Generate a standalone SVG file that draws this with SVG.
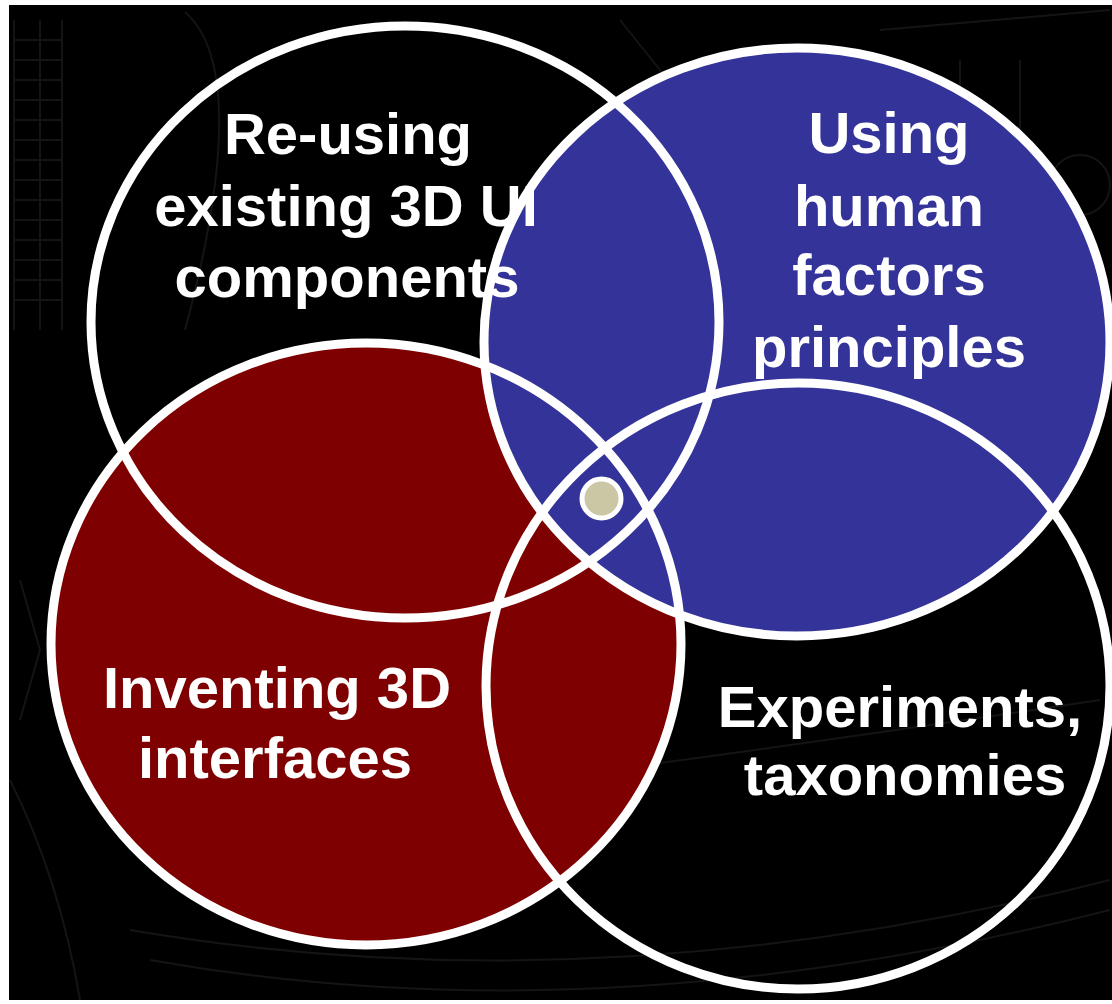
<svg xmlns="http://www.w3.org/2000/svg" width="1112" height="1004" viewBox="0 0 1112 1004">
  <style>
    .ring { fill: none; stroke: #ffffff; stroke-width: 9; }
    .lbl { font-family: "Liberation Sans", Arial, sans-serif; font-weight: bold; font-size: 58px; fill: #ffffff; text-anchor: middle; }
    .deco { fill: none; stroke: #141414; stroke-width: 2; }
  </style>
  <defs>
    <ellipse id="e-reuse" cx="405" cy="322" rx="314" ry="296"/>
    <ellipse id="e-human" cx="797" cy="342" rx="313" ry="294"/>
    <ellipse id="e-invent" cx="366" cy="644" rx="315" ry="301"/>
    <ellipse id="e-exp" cx="798" cy="686" rx="312" ry="303"/>
  </defs>

  <!-- background -->
  <rect x="0" y="0" width="1112" height="1004" fill="#000000"/>
  <g id="background-decoration">
    <path class="deco" d="M14 20 V330 M40 20 V330 M62 20 V330"/>
    <path class="deco" d="M14 40 H62 M14 60 H62 M14 80 H62 M14 100 H62 M14 120 H62 M14 140 H62 M14 160 H62 M14 180 H62 M14 200 H62 M14 220 H62 M14 240 H62 M14 260 H62 M14 280 H62 M14 300 H62"/>
    <path class="deco" d="M185 12 C240 60 220 200 185 330"/>
    <path class="deco" d="M620 20 L700 120 M880 30 L1110 10 M900 60 V160 M960 60 V160 M1020 60 V160"/>
    <circle class="deco" cx="1080" cy="185" r="30"/>
    <path class="deco" d="M130 930 Q600 1010 1110 880"/>
    <path class="deco" d="M150 960 Q600 1040 1110 910"/>
    <path class="deco" d="M300 810 Q700 760 1100 700"/>
    <path class="deco" d="M10 780 Q60 880 80 1000 M20 580 L40 650 L20 720"/>
  </g>

  <!-- fills (layered as in the picture) -->
  <g id="fills">
    <use href="#e-invent" fill="#7f0000"/>
    <use href="#e-human" fill="#333399"/>
  </g>

  <g id="connectors"/>

  <g id="node-reuse">
    <use href="#e-reuse" class="ring"/>
    <text class="lbl" x="348" y="154">Re-using</text>
    <text class="lbl" x="346" y="226">existing 3D UI</text>
    <text class="lbl" x="347" y="297">components</text>
  </g>

  <g id="node-human">
    <use href="#e-human" class="ring"/>
    <text class="lbl" x="889" y="153">Using</text>
    <text class="lbl" x="889" y="226">human</text>
    <text class="lbl" x="889" y="295">factors</text>
    <text class="lbl" x="889" y="367">principles</text>
  </g>

  <g id="node-invent">
    <use href="#e-invent" class="ring"/>
    <text class="lbl" x="277" y="708">Inventing 3D</text>
    <text class="lbl" x="275" y="778">interfaces</text>
  </g>

  <g id="node-exp">
    <use href="#e-exp" class="ring"/>
    <text class="lbl" x="900" y="727">Experiments,</text>
    <text class="lbl" x="905" y="795">taxonomies</text>
  </g>

  <g id="node-center">
    <circle cx="601.5" cy="498.5" r="19.5" fill="#cbc7a5" stroke="#ffffff" stroke-width="5"/>
  </g>

  <!-- white frame edges -->
  <rect x="0" y="0" width="1112" height="5" fill="#ffffff"/>
  <rect x="0" y="0" width="9" height="1004" fill="#ffffff"/>
  <rect x="0" y="1000" width="1112" height="4" fill="#ffffff"/>
</svg>
